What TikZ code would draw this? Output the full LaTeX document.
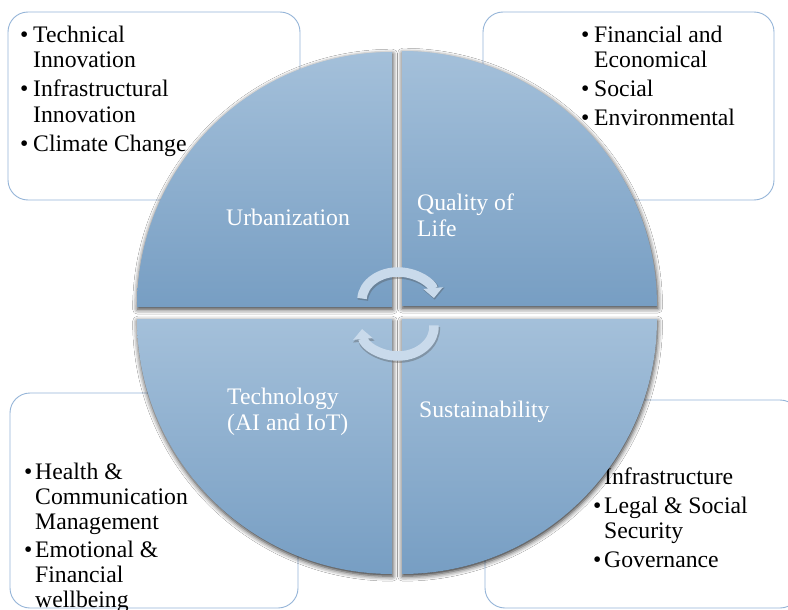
\documentclass[tikz,border=0pt]{standalone}
\usepackage{fontspec}
\setmainfont{Liberation Serif}
\usetikzlibrary{arrows.meta,shadows.blur}
\definecolor{segtop}{HTML}{A4C0DA}
\definecolor{segbot}{HTML}{779EC3}
\definecolor{boxline}{HTML}{95B5D8}
\definecolor{cycarrow}{HTML}{C9DAEB}
% lines stacked under a first baseline
\newcommand\stackl[1]{\begin{tabular}[t]{@{}l@{}}#1\end{tabular}}
\begin{document}
\begin{tikzpicture}[x=1pt,y=-1pt,
  infobox/.style={draw=boxline, line width=0.9pt, rounded corners=20pt, fill=white, inner sep=0pt},
  segment/.style={top color=segtop, bottom color=segbot, draw=none,
    blur shadow={shadow xshift=0.6pt, shadow yshift=-2.2pt, shadow blur radius=5pt, shadow opacity=85}},
  itemtext/.style={anchor=base west, inner sep=0pt, font=\fontsize{23.7}{25}\selectfont},
  bulletmark/.style={anchor=base west, inner sep=0pt, font=\fontsize{23.7}{25}\selectfont},
  seglabel/.style={anchor=base west, inner sep=0pt, text=white, font=\fontsize{23.7}{26.5}\selectfont},
  cyclearrow/.style={draw=cycarrow, line width=9.5pt, -{Triangle[width=19pt,length=10pt]}},
  cycleshade/.style={draw=black!70, line width=10.5pt, -{Triangle[width=21pt,length=11pt]}}
]
\useasboundingbox (0,0) rectangle (788,610);
\fill[white] (0,0) rectangle (788,610);

% ---- text boxes behind the wheel ----
\node[infobox, minimum width=292pt, minimum height=188pt] (boxTL) at (154,106) {};
\node[infobox, minimum width=291pt, minimum height=188pt] (boxTR) at (628.5,106) {};
\node[infobox, minimum width=288pt, minimum height=215pt] (boxBL) at (154,500.5) {};
\node[infobox, minimum width=315pt, minimum height=208pt] (boxBR) at (642.5,504) {};

% top left list
\node[bulletmark] (bTL1) at (20,43) {•};
\node[itemtext]   (tTL1) at (33,43) {\stackl{Technical\\Innovation}};
\node[bulletmark] (bTL2) at (20,97) {•};
\node[itemtext]   (tTL2) at (33,97) {\stackl{Infrastructural\\Innovation}};
\node[bulletmark] (bTL3) at (20,151) {•};
\node[itemtext]   (tTL3) at (33,151) {Climate Change};

% top right list
\node[bulletmark] (bTR1) at (581,43) {•};
\node[itemtext]   (tTR1) at (594,43) {\stackl{Financial and\\Economical}};
\node[bulletmark] (bTR2) at (581,96) {•};
\node[itemtext]   (tTR2) at (594,96) {Social};
\node[bulletmark] (bTR3) at (581,125) {•};
\node[itemtext]   (tTR3) at (594,125) {Environmental};

% bottom left list
\node[bulletmark] (bBL1) at (24,479) {•};
\node[itemtext]   (tBL1) at (35,479) {\stackl{Health \&\\Communication\\Management}};
\node[bulletmark] (bBL2) at (24,557) {•};
\node[itemtext]   (tBL2) at (35,557) {\stackl{Emotional \&\\Financial\\wellbeing}};

% bottom right list
\node[bulletmark] (bBR1) at (593,484) {•};
\node[itemtext]   (tBR1) at (604,484) {Infrastructure};
\node[bulletmark] (bBR2) at (593,513) {•};
\node[itemtext]   (tBR2) at (604,513) {\stackl{Legal \& Social\\Security}};
\node[bulletmark] (bBR3) at (593,567) {•};
\node[itemtext]   (tBR3) at (604,567) {Governance};

% ---- the four quarter segments ----
\path[segment] (392,307) -- (137,307) arc[start angle=180, end angle=270, radius=255] -- cycle;
\path[segment] (402,306) -- (402,51) arc[start angle=270, end angle=360, radius=255] -- cycle;
\path[segment] (392,319) -- (137,319) arc[start angle=180, end angle=90, radius=255] -- cycle;
\path[segment] (402,319) -- (657,319) arc[start angle=0, end angle=90, radius=255] -- cycle;

\node[seglabel] (urb)  at (226,225)   {Urbanization};
\node[seglabel] (qol)  at (417,210)   {\stackl{Quality of\\Life}};
\node[seglabel] (tech) at (227,404)   {\stackl{Technology\\(AI and IoT)}};
\node[seglabel] (sus)  at (419,417.5) {Sustainability};

% ---- circular arrows in the middle ----
\begin{scope}[transparency group, opacity=0.35, shift={(0.8,1.6)}]
  \draw[cycleshade] (398,300) ++(183:36 and 28)
    arc[start angle=183, end angle=356, x radius=36, y radius=28];
  \draw[cycleshade] (398,327) ++(-3:36 and 29)
    arc[start angle=-3, end angle=176, x radius=36, y radius=29];
\end{scope}
\draw[cyclearrow] (398,300) ++(183:36 and 28)
  arc[start angle=183, end angle=356, x radius=36, y radius=28];
\draw[cyclearrow] (398,327) ++(-3:36 and 29)
  arc[start angle=-3, end angle=176, x radius=36, y radius=29];
\end{tikzpicture}
\end{document}
